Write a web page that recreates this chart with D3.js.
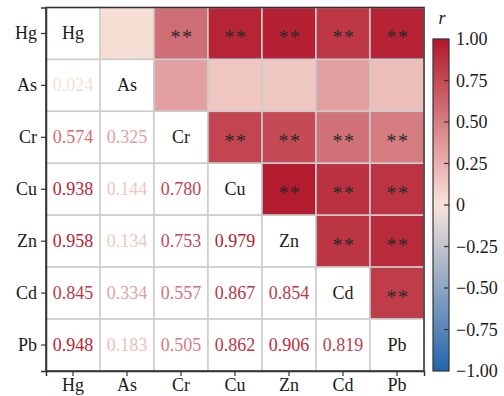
<!DOCTYPE html>
<html>
<head>
<meta charset="utf-8">
<script src="https://cdn.jsdelivr.net/npm/d3@7"></script>
<style>
  html, body { margin: 0; padding: 0; background: #fff; }
  text { font-family: "Liberation Serif", "Times New Roman", serif; }
</style>
</head>
<body>
<svg id="chart" width="504" height="396"></svg>
<script>
// Heavy metals in the matrix
const variables = ["Hg", "As", "Cr", "Cu", "Zn", "Cd", "Pb"];

// Pearson r, lower triangle (row i lists r with columns 0..i-1)
const rLower = [
  [],
  [0.024],
  [0.574, 0.325],
  [0.938, 0.144, 0.780],
  [0.958, 0.134, 0.753, 0.979],
  [0.845, 0.334, 0.557, 0.867, 0.854],
  [0.948, 0.183, 0.505, 0.862, 0.906, 0.819]
];

// Significance marks, same layout as rLower
const sigLower = [
  [],
  [""],
  ["**", ""],
  ["**", "", "**"],
  ["**", "", "**", "**"],
  ["**", "", "**", "**", "**"],
  ["**", "", "**", "**", "**", "**"]
];

// Colour bar ticks
const barTicks = [1.00, 0.75, 0.50, 0.25, 0, -0.25, -0.50, -0.75, -1.00];
const barTickLabels = ["1.00", "0.75", "0.50", "0.25", "0", "\u22120.25", "\u22120.50", "\u22120.75", "\u22121.00"];

const svg = d3.select("#chart");

const plotLeft = 46, plotRight = 424, plotTop = 7.5, plotBottom = 371;

const x = d3.scaleBand().domain(variables).range([plotLeft, plotRight]);
const y = d3.scaleBand().domain(variables).range([plotTop, plotBottom]);

const color = d3.scaleLinear()
  .domain([-1, 0, 1])
  .range(["#2166ac", "#f9e3d9", "#b2182b"])
  .interpolate(d3.interpolateRgb);

function rOf(i, j) {
  if (i === j) return 1;
  return i > j ? rLower[i][j] : rLower[j][i];
}
function sigOf(i, j) {
  return i > j ? sigLower[i][j] : sigLower[j][i];
}

const cells = [];
variables.forEach((rv, i) => {
  variables.forEach((cv, j) => {
    cells.push({ i, j, row: rv, col: cv, r: rOf(i, j), sig: i === j ? "" : sigOf(i, j) });
  });
});

// Cells: upper triangle filled by r, rest white
svg.append("g").selectAll("rect")
  .data(cells)
  .join("rect")
  .attr("x", d => x(d.col))
  .attr("y", d => y(d.row))
  .attr("width", x.bandwidth())
  .attr("height", y.bandwidth())
  .attr("fill", d => d.j > d.i ? color(d.r) : "#ffffff")
  .attr("stroke", "#cccccc")
  .attr("stroke-width", 1.5);

// Diagonal names
svg.append("g").selectAll("text")
  .data(cells.filter(d => d.i === d.j))
  .join("text")
  .attr("x", d => x(d.col) + x.bandwidth() / 2)
  .attr("y", d => y(d.row) + y.bandwidth() / 2 + 6)
  .attr("text-anchor", "middle")
  .attr("font-size", 18)
  .attr("fill", "#1a1a1a")
  .text(d => d.row);

// Lower triangle values
svg.append("g").selectAll("text")
  .data(cells.filter(d => d.i > d.j))
  .join("text")
  .attr("x", d => x(d.col) + x.bandwidth() / 2)
  .attr("y", d => y(d.row) + y.bandwidth() / 2 + 6)
  .attr("text-anchor", "middle")
  .attr("font-size", 18)
  .attr("fill", d => color(d.r))
  .text(d => d.r.toFixed(3));

// Upper triangle significance marks
svg.append("g").selectAll("text")
  .data(cells.filter(d => d.j > d.i && d.sig))
  .join("text")
  .attr("x", d => x(d.col) + x.bandwidth() / 2 + 1)
  .attr("y", d => y(d.row) + y.bandwidth() / 2 + 11)
  .attr("text-anchor", "middle")
  .attr("font-size", 20)
  .attr("letter-spacing", 1.5)
  .attr("fill", "#2a2a2a")
  .text(d => d.sig);

// Frame
svg.append("rect")
  .attr("x", plotLeft).attr("y", plotTop)
  .attr("width", plotRight - plotLeft).attr("height", plotBottom - plotTop)
  .attr("fill", "none")
  .attr("stroke", "#333333")
  .attr("stroke-width", 1.5);

// Axes
const xAxis = svg.append("g")
  .attr("transform", `translate(0,${plotBottom})`)
  .call(d3.axisBottom(x).tickSize(5).tickPadding(4));
const yAxis = svg.append("g")
  .attr("transform", `translate(${plotLeft},0)`)
  .call(d3.axisLeft(y).tickSize(5).tickPadding(4));
[xAxis, yAxis].forEach(a => {
  a.select(".domain").attr("stroke", "#333333").attr("stroke-width", 1.5);
  a.selectAll(".tick line").attr("stroke", "#333333").attr("stroke-width", 1.2);
  a.selectAll(".tick text")
    .attr("font-family", "Liberation Serif, Times New Roman, serif")
    .attr("font-size", 18)
    .attr("fill", "#1a1a1a");
});
xAxis.selectAll(".tick text").attr("dy", "0.62em");

// Colour bar
const barX = 433, barW = 16, barTop = 39, barBottom = 371;
const yBar = d3.scaleLinear().domain([-1, 1]).range([barBottom, barTop]);

const defs = svg.append("defs");
const grad = defs.append("linearGradient")
  .attr("id", "rgrad")
  .attr("x1", 0).attr("y1", 1).attr("x2", 0).attr("y2", 0);
d3.range(-1, 1.0001, 0.1).forEach(v => {
  grad.append("stop")
    .attr("offset", (v + 1) / 2)
    .attr("stop-color", color(v));
});

svg.append("rect")
  .attr("x", barX).attr("y", barTop)
  .attr("width", barW).attr("height", barBottom - barTop)
  .attr("fill", "url(#rgrad)")
  .attr("stroke", "#333333")
  .attr("stroke-width", 1.2);

const barG = svg.append("g");
barG.selectAll("line")
  .data(barTicks.filter(v => v !== 1 && v !== -1))
  .join("line")
  .attr("x1", barX + barW - 5).attr("x2", barX + barW)
  .attr("y1", d => yBar(d)).attr("y2", d => yBar(d))
  .attr("stroke", "#333333")
  .attr("stroke-width", 1.2);

barG.selectAll("text")
  .data(barTicks)
  .join("text")
  .attr("x", barX + barW + 7)
  .attr("y", d => yBar(d) + 6)
  .attr("font-size", 18)
  .attr("fill", "#1a1a1a")
  .text((d, k) => barTickLabels[k]);

svg.append("text")
  .attr("x", barX + barW / 2 + 1)
  .attr("y", 24)
  .attr("text-anchor", "middle")
  .attr("font-size", 18)
  .attr("font-style", "italic")
  .attr("fill", "#1a1a1a")
  .text("r");
</script>
</body>
</html>
